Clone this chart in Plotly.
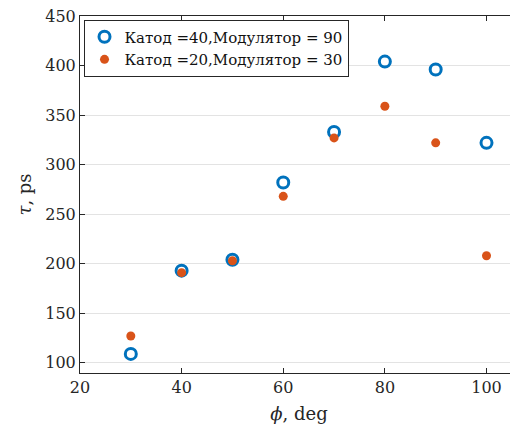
import plotly.graph_objects as go

phi = [30, 40, 50, 60, 70, 80, 90, 100]
tau_k40_m90 = [109, 193, 204, 282, 333, 404, 396, 322]
tau_k20_m30 = [127, 191, 203, 268, 327, 359, 322, 208]
names = ["Катод =40,Модулятор = 90", "Катод =20,Модулятор = 30"]
x_ticks = [20, 40, 60, 80, 100]
y_ticks = [100, 150, 200, 250, 300, 350, 400, 450]

font = "DejaVu Serif"
axcol = "#262626"
tickfont = dict(family=font, size=16, color=axcol)

fig = go.Figure()
fig.add_trace(go.Scatter(
    x=phi, y=tau_k40_m90, mode="markers", name=names[0],
    marker=dict(symbol="circle-open", size=11, color="#0072BD",
                line=dict(width=3, color="#0072BD")),
))
fig.add_trace(go.Scatter(
    x=phi, y=tau_k20_m30, mode="markers", name=names[1],
    marker=dict(symbol="circle", size=9, color="#D95319"),
))

# page body has an 8px margin: figure and margins are shrunk to compensate
fig.update_layout(
    width=510, height=416,
    margin=dict(l=72, r=0, t=8, b=51),
    paper_bgcolor="white", plot_bgcolor="white",
    font=dict(family=font, size=16, color=axcol),
    showlegend=True,
    legend=dict(
        x=0.008, y=0.99, xanchor="left", yanchor="top",
        bgcolor="white", bordercolor=axcol, borderwidth=1,
        font=dict(family=font, size=15, color="#111"),
        itemwidth=30, tracegroupgap=0,
    ),
    xaxis=dict(
        range=[20, 106.2], tickvals=x_ticks, showgrid=False, zeroline=False,
        showline=True, linecolor=axcol, linewidth=1, mirror="ticks",
        ticks="inside", ticklen=5, tickcolor=axcol, automargin=False,
        tickfont=tickfont,
        title=dict(text="<i>ϕ</i>, deg", font=dict(family=font, size=18), standoff=12),
    ),
    yaxis=dict(
        range=[89.7, 450.05], tickvals=y_ticks, showgrid=True, gridcolor="#e3e3e3",
        gridwidth=1, zeroline=False, ticklabeloverflow="allow",
        showline=True, linecolor=axcol, linewidth=1, mirror=False,
        ticks="inside", ticklen=5, tickcolor=axcol, automargin=False,
        tickfont=tickfont,
        title=dict(text="<i>τ</i>, ps", font=dict(family=font, size=18), standoff=8),
    ),
)

fig.write_html("out.html")
